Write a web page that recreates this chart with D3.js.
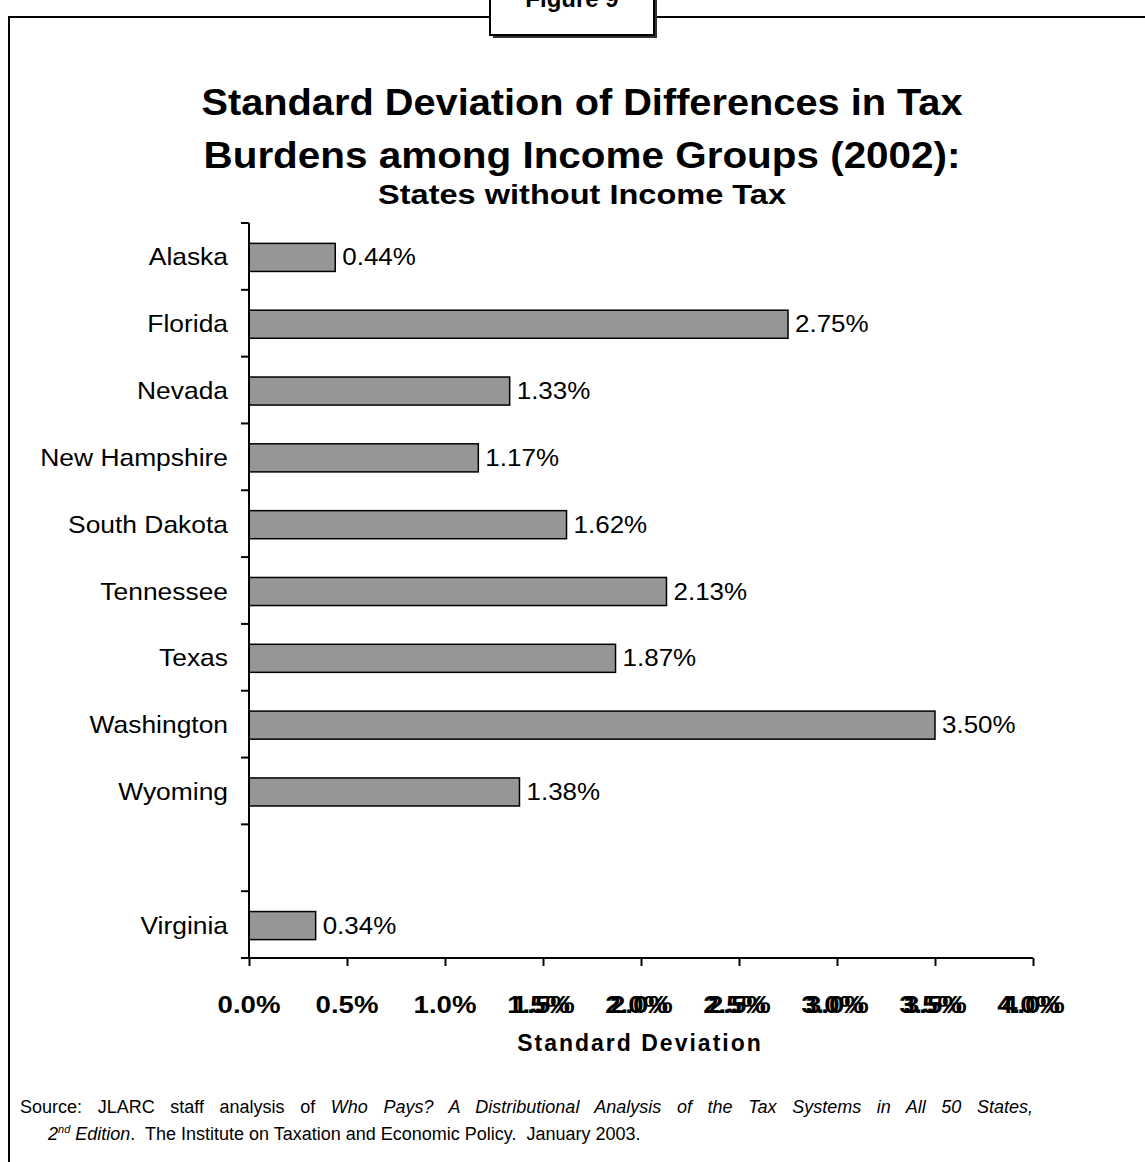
<!DOCTYPE html>
<html><head><meta charset="utf-8">
<script src="https://cdn.jsdelivr.net/npm/d3@7"></script>
<style>
body{margin:0;background:#fff;}
text{font-family:"Liberation Sans",Arial,sans-serif;white-space:pre;}
</style></head>
<body><svg id="c" width="1145" height="1162"></svg>
<script>
const categories = ["Alaska","Florida","Nevada","New Hampshire","South Dakota","Tennessee","Texas","Washington","Wyoming","","Virginia"];
const values = [0.44,2.75,1.33,1.17,1.62,2.13,1.87,3.50,1.38,null,0.34];
const valueLabels = ["0.44%","2.75%","1.33%","1.17%","1.62%","2.13%","1.87%","3.50%","1.38%","","0.34%"];
const xTicks = [0,0.5,1.0,1.5,2.0,2.5,3.0,3.5,4.0];
const xTickLabels = ["0.0%","0.5%","1.0%","1.5%","2.0%","2.5%","3.0%","3.5%","4.0%"];
const doubledTicks = [false,false,false,true,true,true,true,true,true];

const svg = d3.select("#c");
// frame
svg.append("path").attr("d","M9,1162 V17 H490 M655,17 H1145").attr("fill","none").attr("stroke","#000").attr("stroke-width",2);
svg.append("rect").attr("x",493).attr("y",-10).attr("width",164).attr("height",48).attr("fill","#333");
svg.append("rect").attr("x",490).attr("y",-10).attr("width",164).attr("height",45).attr("fill","#fff").attr("stroke","#000").attr("stroke-width",2);
svg.append("text").attr("x",572).attr("y",7).attr("text-anchor","middle").attr("font-weight","bold").attr("font-size",24).text("Figure 9");

// titles
function titleLine(txt, yy, size, len){
  svg.append("text").attr("x",582).attr("y",yy).attr("text-anchor","middle").attr("font-weight","bold")
    .attr("font-size",size).attr("textLength",len).attr("lengthAdjust","spacingAndGlyphs").text(txt);
}
titleLine("Standard Deviation of Differences in Tax",115,36,761);
titleLine("Burdens among Income Groups (2002):",168,36,757);
titleLine("States without Income Tax",204,27,408);

const x = d3.scaleLinear().domain([0,4]).range([249,1033]);
const y = d3.scaleBand().domain(d3.range(categories.length)).range([223,958]).paddingInner(0.58).paddingOuter(0.29);
const step = y.step();

// bars
const g = svg.append("g");
values.forEach((v,i)=>{
  if(v==null) return;
  g.append("rect").attr("x",x(0)).attr("y",y(i)+1).attr("width",x(v)-x(0)).attr("height",y.bandwidth())
   .attr("fill","#969696").attr("stroke","#000").attr("stroke-width",1.5);
  g.append("text").attr("transform",`translate(${x(v)+7},${y(i)+y.bandwidth()/2+9}) scale(1.13,1)`)
   .attr("font-size",23).text(valueLabels[i]);
});
categories.forEach((c,i)=>{
  g.append("text").attr("transform",`translate(228,${y(i)+y.bandwidth()/2+9}) scale(1.1,1)`)
   .attr("text-anchor","end").attr("font-size",24).text(c);
});
// y axis
const yBounds = d3.range(categories.length+1).map(i=>223+i*step);
svg.append("line").attr("x1",249).attr("x2",249).attr("y1",223).attr("y2",958).attr("stroke","#000").attr("stroke-width",2);
yBounds.forEach(b=>svg.append("line").attr("x1",241).attr("x2",249).attr("y1",b).attr("y2",b).attr("stroke","#000").attr("stroke-width",2));
// x axis
const xa = svg.append("g").attr("transform","translate(0,958)")
  .call(d3.axisBottom(x).tickValues(xTicks).tickSize(8).tickFormat(()=>""));
xa.select(".domain").attr("d","M241,0H1033").attr("stroke-width",2);
xa.selectAll(".tick line").attr("stroke-width",2);
xTicks.forEach((t,i)=>{
  const lab = svg.append("g").attr("transform",`translate(${x(t)-(doubledTicks[i]?2:0)},1013) scale(1.2,1)`);
  const offs = doubledTicks[i] ? [-2,2] : [0];
  offs.forEach(o=>lab.append("text").attr("x",o).attr("text-anchor","middle").attr("font-weight","bold").attr("font-size",23).text(xTickLabels[i]));
});
svg.append("text").attr("x",640).attr("y",1051).attr("text-anchor","middle").attr("font-weight","bold").attr("font-size",23).attr("letter-spacing",2).text("Standard Deviation");

// source
const s1 = svg.append("text").attr("x",20).attr("y",1113).attr("font-size",18);
s1.append("tspan").text("Source: JLARC staff analysis of ");
s1.append("tspan").attr("font-style","italic").text("Who Pays? A Distributional Analysis of the Tax Systems in All 50 States,");
const natural = s1.node().getComputedTextLength();
const spaces = (s1.text().match(/ /g)||[]).length;
s1.attr("word-spacing", (1013-natural)/spaces);
const s2 = svg.append("text").attr("x",48).attr("y",1140).attr("font-size",18);
s2.append("tspan").attr("font-style","italic").text("2");
s2.append("tspan").attr("font-style","italic").attr("font-size",11).attr("dy",-7).text("nd");
s2.append("tspan").attr("font-style","italic").attr("dy",7).text(" Edition");
s2.append("tspan").text(".  The Institute on Taxation and Economic Policy.  January 2003.");
</script></body></html>
